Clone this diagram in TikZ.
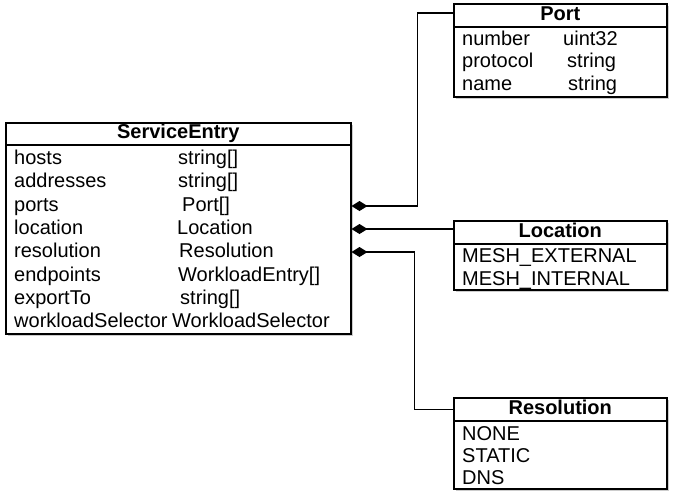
\documentclass[tikz,border=0pt]{standalone}
\usepackage{fontspec}
\setmainfont{Liberation Sans}
\usepackage{tikz}
\usetikzlibrary{arrows.meta,positioning,calc,shadows}

\begin{document}
\begin{tikzpicture}[x=1pt,y=-1pt,
    classbox/.style={draw,line width=1.5pt,fill=white,anchor=north west,inner sep=0pt,
        drop shadow={shadow xshift=2.5pt,shadow yshift=-2.5pt,opacity=0.4}},
    classtitle/.style={draw,line width=1.5pt,fill=white,anchor=north west,inner sep=0pt,
        minimum height=23pt,font=\bfseries,text height=14pt,text depth=4pt},
    field/.style={anchor=base west,inner sep=0pt,text height=14pt,text depth=4pt},
    aggr/.style={line width=1.5pt,{Diamond[length=16pt,width=10pt]}-}]
    \fontsize{20}{23}\selectfont
    \useasboundingbox (0,0) rectangle (674,499);

    % ServiceEntry
    \node[classbox,minimum width=345pt,minimum height=211pt] (svcentry) at (5,122) {};
    \node[classtitle,minimum width=345pt,minimum height=22pt] (svctitle) at (5,122) {ServiceEntry};
    \node[field] (hosts) at (14,164) {hosts};
    \node[field] (addresses) at (14,187) {addresses};
    \node[field] (ports) at (14,211) {ports};
    \node[field] (location) at (14,234) {location};
    \node[field] (resolution) at (14,257) {resolution};
    \node[field] (endpoints) at (14,281) {endpoints};
    \node[field] (exportto) at (14,304) {exportTo};
    \node[field] (selector) at (14,327) {workloadSelector};
    \node[field] (hoststype) at (178,164) {string[]};
    \node[field] (addressestype) at (178,187) {string[]};
    \node[field] (portstype) at (182,211) {Port[]};
    \node[field] (locationtype) at (177,234) {Location};
    \node[field] (resolutiontype) at (179,257) {Resolution};
    \node[field] (endpointstype) at (178,281) {WorkloadEntry[]};
    \node[field] (exporttotype) at (180,304) {string[]};
    \node[field] (selectortype) at (172,327) {WorkloadSelector};

    % Port
    \node[classbox,minimum width=213pt,minimum height=93pt] (port) at (453,3) {};
    \node[classtitle,minimum width=213pt] (porttitle) at (453,3) {Port};
    \node[field] (number) at (462,45) {number};
    \node[field] (protocol) at (462,67) {protocol};
    \node[field] (name) at (462,90) {name};
    \node[field] (numbertype) at (563,45) {uint32};
    \node[field] (protocoltype) at (567,67) {string};
    \node[field] (nametype) at (568,90) {string};

    % Location
    \node[classbox,minimum width=213pt,minimum height=69pt] (loc) at (453,220) {};
    \node[classtitle,minimum width=213pt] (loctitle) at (453,220) {Location};
    \node[field] (external) at (462,262) {MESH\_EXTERNAL};
    \node[field] (internal) at (462,285) {MESH\_INTERNAL};

    % Resolution
    \node[classbox,minimum width=213pt,minimum height=91pt] (res) at (453,397) {};
    \node[classtitle,minimum width=213pt] (restitle) at (453,397) {Resolution};
    \node[field] (none) at (462,440) {NONE};
    \node[field] (static) at (462,462) {STATIC};
    \node[field] (dns) at (462,484) {DNS};

    % aggregations
    \draw[aggr] (svcentry.east |- ports) -- ++(66,0) |- ($(porttitle.west)+(0,-2.5)$);
    \draw[aggr] (svcentry.east |- location) -- (loctitle.west |- location);
    \draw[aggr] (svcentry.east |- resolution) -- ++(63,0) |- (restitle.west);
\end{tikzpicture}
\end{document}
